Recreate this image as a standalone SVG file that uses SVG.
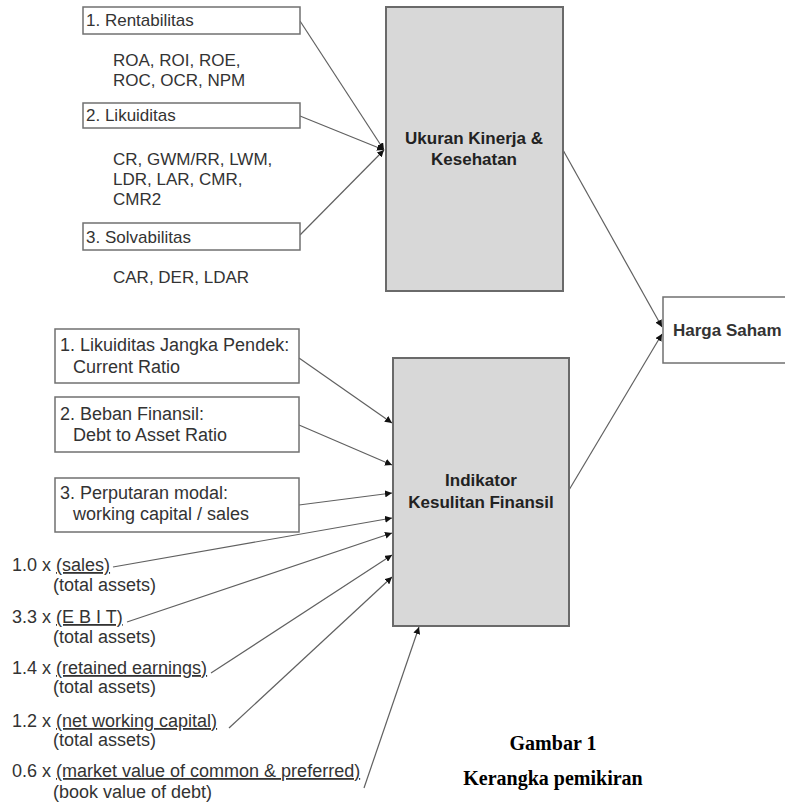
<svg xmlns="http://www.w3.org/2000/svg" width="785" height="808" viewBox="0 0 785 808">
<defs>
<marker id="ah" viewBox="0 0 10 10" refX="10" refY="5" markerWidth="7" markerHeight="7" markerUnits="userSpaceOnUse" orient="auto">
<path d="M0,0 L10,5 L0,10 z" fill="#111"/>
</marker>
</defs>
<style>
.box{fill:#fff;stroke:#707070;stroke-width:1.5}
.big{fill:#d8d8d8;stroke:#6a6a6a;stroke-width:2}
.t{font-family:"Liberation Sans",Arial,sans-serif;font-size:17px;fill:#333}
.l{font-size:18px}
.b{font-family:"Liberation Sans",Arial,sans-serif;font-size:17px;font-weight:bold;fill:#222;text-anchor:middle}
.u{text-decoration:underline}
.cap{font-family:"Liberation Serif","Times New Roman",serif;font-size:20px;font-weight:bold;fill:#000;text-anchor:middle}
.c{fill:none;stroke:#606060;stroke-width:1.2;marker-end:url(#ah)}
</style>
<rect width="785" height="808" fill="#fff"/>

<g id="connectors">
<line class="c" x1="300" y1="21" x2="384" y2="150"/>
<line class="c" x1="300" y1="116" x2="384" y2="150"/>
<line class="c" x1="300" y1="235" x2="384" y2="150"/>
<line class="c" x1="563" y1="150" x2="662" y2="327"/>
<line class="c" x1="569" y1="490" x2="662" y2="334"/>
<line class="c" x1="299" y1="358" x2="392" y2="423"/>
<line class="c" x1="299" y1="425" x2="392" y2="465"/>
<line class="c" x1="299" y1="505" x2="392" y2="493"/>
<line class="c" x1="113" y1="567" x2="392" y2="518"/>
<line class="c" x1="127" y1="622" x2="392" y2="533"/>
<line class="c" x1="211" y1="673" x2="392" y2="555"/>
<line class="c" x1="229" y1="728" x2="392" y2="577"/>
<line class="c" x1="364" y1="788" x2="419" y2="627"/>
</g>

<g id="rentabilitas">
<rect class="box" x="83" y="7" width="217" height="27"/>
<text class="t" x="86" y="26">1. Rentabilitas</text>
<text class="t" x="113" y="66">ROA, ROI, ROE,</text>
<text class="t" x="113" y="86">ROC, OCR, NPM</text>
</g>
<g id="likuiditas">
<rect class="box" x="83" y="103" width="217" height="25"/>
<text class="t" x="86" y="121">2. Likuiditas</text>
<text class="t" x="113" y="165">CR, GWM/RR, LWM,</text>
<text class="t" x="113" y="185">LDR, LAR, CMR,</text>
<text class="t" x="113" y="205">CMR2</text>
</g>
<g id="solvabilitas">
<rect class="box" x="83" y="223" width="217" height="27"/>
<text class="t" x="86" y="243">3. Solvabilitas</text>
<text class="t" x="113" y="283">CAR, DER, LDAR</text>
</g>

<g id="ukuran">
<rect class="big" x="386" y="7" width="177" height="284"/>
<text class="b" x="474" y="144">Ukuran Kinerja &amp;</text>
<text class="b" x="474" y="165">Kesehatan</text>
</g>

<g id="harga">
<rect class="box" x="663" y="297" width="130" height="66"/>
<text class="t" x="673" y="336" font-weight="bold" fill="#222">Harga Saham</text>
</g>

<g id="likuiditas-jp">
<rect class="box" x="55" y="329" width="244" height="54"/>
<text class="t l" x="60" y="351">1. Likuiditas Jangka Pendek:</text>
<text class="t l" x="73" y="373">Current Ratio</text>
</g>
<g id="beban">
<rect class="box" x="55" y="397" width="244" height="55"/>
<text class="t l" x="60" y="420">2. Beban Finansil:</text>
<text class="t l" x="73" y="441">Debt to Asset Ratio</text>
</g>
<g id="perputaran">
<rect class="box" x="55" y="478" width="244" height="54"/>
<text class="t l" x="60" y="499">3. Perputaran modal:</text>
<text class="t l" x="73" y="520">working capital / sales</text>
</g>

<g id="indikator">
<rect class="big" x="393" y="358" width="176" height="268"/>
<text class="b" x="481" y="486">Indikator</text>
<text class="b" x="481" y="508">Kesulitan Finansil</text>
</g>

<g id="z-score">
<text class="t l" x="12" y="571">1.0 x <tspan class="u">(sales)</tspan></text>
<text class="t l" x="53" y="591">(total assets)</text>
<text class="t l" x="12" y="623">3.3 x <tspan class="u">(E B I T)</tspan></text>
<text class="t l" x="53" y="643">(total assets)</text>
<text class="t l" x="12" y="674">1.4 x <tspan class="u">(retained earnings)</tspan></text>
<text class="t l" x="53" y="693">(total assets)</text>
<text class="t l" x="12" y="727">1.2 x <tspan class="u">(net working capital)</tspan></text>
<text class="t l" x="53" y="746">(total assets)</text>
<text class="t l" x="12" y="777">0.6 x <tspan class="u">(market value of common &amp; preferred)</tspan></text>
<text class="t l" x="53" y="798">(book value of debt)</text>
</g>

<g id="caption">
<text class="cap" x="553" y="750">Gambar 1</text>
<text class="cap" x="553" y="785">Kerangka pemikiran</text>
</g>
</svg>
